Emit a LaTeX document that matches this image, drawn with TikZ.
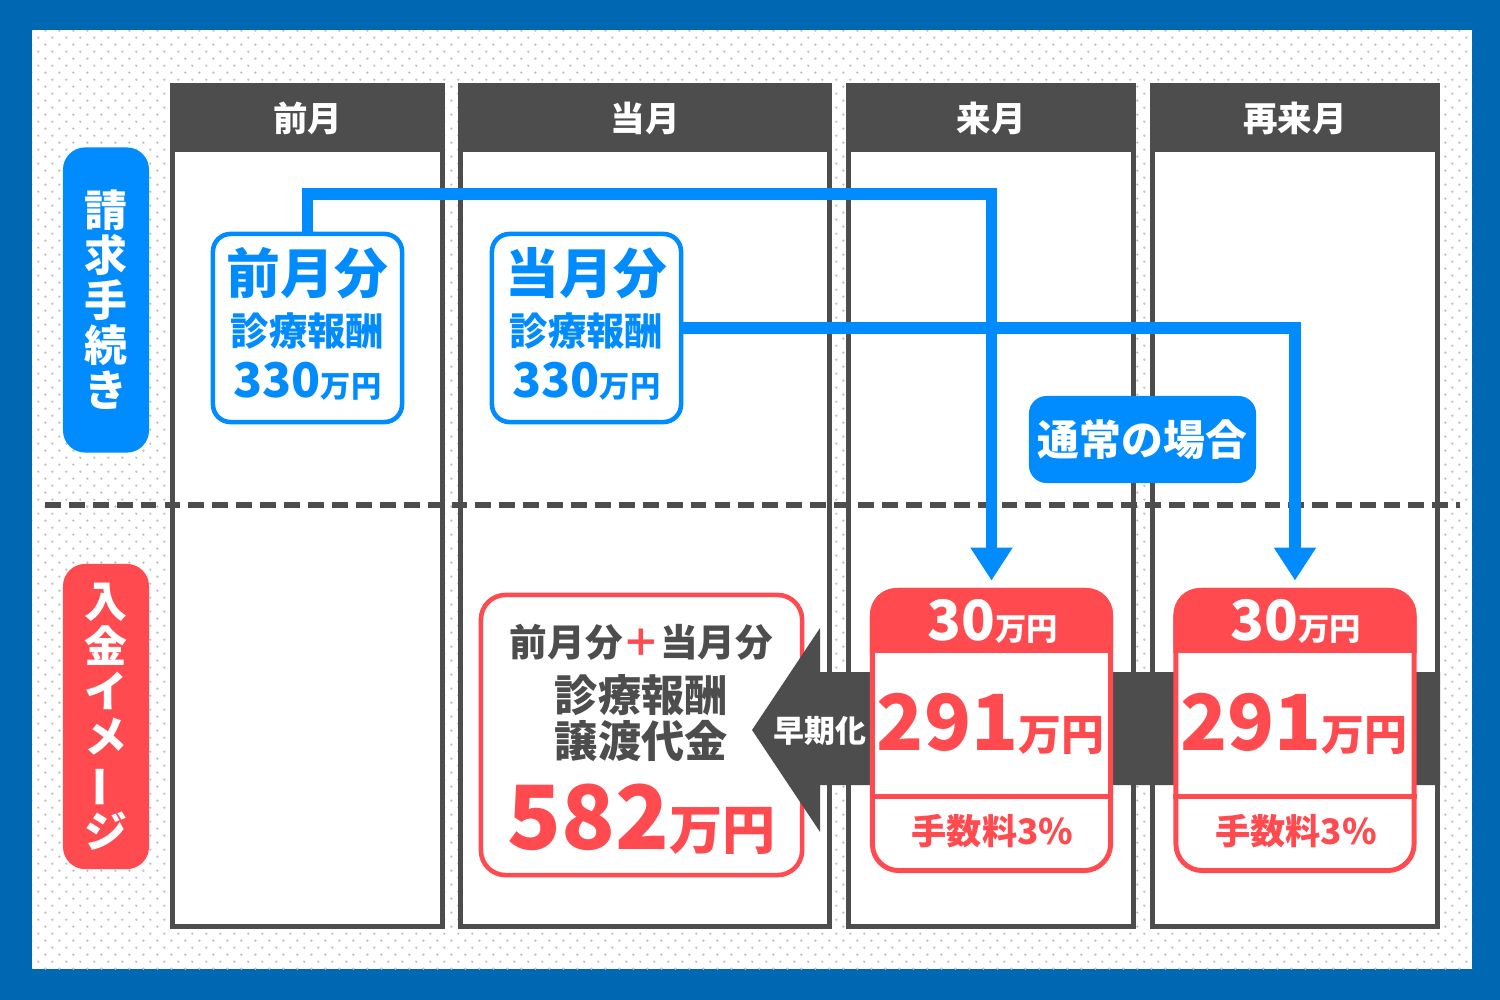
\documentclass[tikz,border=0pt]{standalone}
\usepackage{fontspec}
\setmainfont{Noto Sans CJK JP}
\usepackage{xcolor}
\usepackage{tikz}
\usetikzlibrary{arrows.meta}
\usetikzlibrary{calc, fit, positioning}
\usetikzlibrary{patterns.meta}
\definecolor{frameBlue}{HTML}{0068B3}
\definecolor{billBlue}{HTML}{008CFF}
\definecolor{payRed}{HTML}{FF4B50}
\definecolor{gridGray}{HTML}{4D4D4D}
\definecolor{dotGray}{HTML}{C4C4C4}
\newcommand{\sz}[1]{\fontsize{#1pt}{#1pt}\selectfont}
\tikzdeclarepattern{
    name=bgdots,
    type=uncolored,
    bounding box={(0pt,0pt) and (4.1pt,4.1pt)},
    tile size={(4.1pt,4.1pt)},
    code={
        \fill (1pt,1pt) circle (0.38pt);
        \fill (3.05pt,3.05pt) circle (0.38pt);
    }
}
\tikzset{col-frame/.style={draw=gridGray, line width=1.4pt, fill=white, inner sep=0pt}}
\tikzset{col-head/.style={text=white, inner sep=0pt, font=\bfseries\sz{9.8}}}
\tikzset{side-label/.style={
        rounded corners=6.3pt,
        text=white,
        minimum width=0.86cm,
        minimum height=3.05cm,
        inner sep=0pt,
        align=center,
        font=\bfseries\fontsize{12.2pt}{12.8pt}\selectfont
    }
}
\tikzset{bill-box/.style={draw=billBlue, line width=1.3pt, fill=white, rounded corners=5pt, minimum width=1.89cm, minimum height=1.88cm, inner sep=0pt}}
\tikzset{bill-text/.style={anchor=base, inner sep=0pt, text=billBlue, font=\bfseries}}
\tikzset{bill-line/.style={draw=billBlue, line width=3.4pt}}
\tikzset{>={Triangle[width=11.4pt, length=9.4pt]}}
\tikzset{pay-card/.style={draw=payRed, line width=1.4pt, fill=white, rounded corners=7.5pt, minimum width=2.38cm, minimum height=2.80cm, inner sep=0pt}}
\tikzset{pay-text/.style={anchor=base, inner sep=0pt, text=payRed, font=\bfseries}}
\tikzset{dash-line/.style={draw=gridGray, line width=1.7pt, dash pattern=on 4.5pt off 2.3pt}}
\newcommand{\monthcol}[4]{
    \node[col-frame, fit={(#2,85.5)(#3,926.5)}] (col#1) {};
    \filldraw[gridGray, line width=1.4pt] (#2,85.5) rectangle (#3,150);
    \node[col-head] (head#1) at ($(#2,118)!0.5!(#3,118)$) {#4};
}
\newcommand{\billbox}[3]{
    \node[bill-box] (#1) at (#2,328) {};
    \node[bill-text, font=\bfseries\sz{15.3}] (#1title) at ($(#1.north)+(0,62)$) {#3};
    \node[bill-text, font=\bfseries\sz{10.9}] (#1kind) at ($(#1.north)+(0,114)$) {診療報酬};
    \node[bill-text] (#1sum) at ($(#1.north)+(0,166)$) {\sz{13.6}330\sz{8.6}万円};
}
\newcommand{\paycard}[2]{
    \node[pay-card] (card#1) at (#2,730.5) {};
    \begin{scope}
        \clip ($(card#1.north west)+(-5,-5)$) rectangle ($(card#1.north east)+(5,64.5)$);
        \fill[payRed, rounded corners=7.5pt] (card#1.north west) rectangle (card#1.south east);
    \end{scope}
    \draw[payRed, line width=1.4pt] ($(card#1.north west)+(0,208.5)$) -- ($(card#1.north east)+(0,208.5)$);
    \node[pay-text, text=white] (fee#1head) at ($(card#1.north)+(1,52.5)$) {\sz{15.8}30\sz{8.9}万円};
    \node[pay-text] (fee#1net) at ($(card#1.north)+(-1,162.5)$) {\sz{22}291\sz{12.2}万円};
    \node[pay-text] (fee#1rate) at ($(card#1.north)+(1,256.5)$) {\sz{10}手数料3\%};
}

\begin{document}
\begin{tikzpicture}[x=0.01cm, y=-0.01cm]
    \useasboundingbox (0,0) rectangle (1500,1000);
    \fill[frameBlue] (0,0) rectangle (1500,1000);
    \fill[white] (32,30) rectangle (1472,969);
    \fill[pattern=bgdots, pattern color=dotGray] (32,30) rectangle (1472,969);

    \monthcol{1}{172.5}{442.5}{前月}
    \monthcol{2}{460.5}{829.5}{当月}
    \monthcol{3}{848.5}{1133.5}{来月}
    \monthcol{4}{1152.5}{1437.5}{再来月}

    \coordinate (dashL) at (45,505);
    \coordinate (dashR) at (1460,505);
    \draw[dash-line] (dashL) -- (dashR);

    \node[draw=payRed, line width=1.3pt, fill=white, rounded corners=7pt, minimum width=3.21cm, minimum height=2.80cm, inner sep=0pt] (total) at (641.5,735) {};
    \node[anchor=base, inner sep=0pt, text=gridGray, font=\bfseries\sz{10.7}] (totalhead) at ($(total.north)+(0,64)$) {前月分{\color{payRed}＋}当月分};
    \node[anchor=base, inner sep=0pt, text=gridGray, font=\bfseries\sz{12.3}] (totalkind) at ($(total.north)+(0,119)$) {診療報酬};
    \node[anchor=base, inner sep=0pt, text=gridGray, font=\bfseries\sz{12.3}] (totalsale) at ($(total.north)+(0,165)$) {譲渡代金};
    \node[pay-text] (totalsum) at ($(total.north)+(0,257)$) {\sz{25.2}582\sz{15.1}万円};

    % early payment arrow
    \fill[gridGray] (1440,672) -- (820,672) -- (820,628) -- (752,730) -- (820,832) -- (820,785) -- (1440,785) -- cycle;

    \paycard{1}{991.5}
    \paycard{2}{1295}

    \node[text=white, font=\bfseries\sz{8.8}] (early) at (820,731) {早期化};

    \node[side-label, fill=billBlue] (billtag) at (106,300) {請\\求\\手\\続\\き};
    \node[side-label, fill=payRed] (paytag) at (106,716.5) {入\\金\\イ\\メ\\\rotatebox[origin=c]{90}{ー}\\ジ};

    \billbox{prev}{307.5}{前月分}
    \billbox{this}{586.5}{当月分}

    \coordinate (railTop) at (0,194);
    \draw[bill-line, ->, shorten >=2.1pt] (prev.north) |- (railTop -| card1.north) -- (card1.north);
    \draw[bill-line, ->, shorten >=2.1pt] (this.east) -| (card2.north);

    \node[fill=billBlue, rounded corners=5pt, minimum width=2.27cm, minimum height=0.87cm, inner sep=0pt, text=white, font=\bfseries\sz{11.9}] (usual) at (1142.5,439.5) {通常の場合};
\end{tikzpicture}
\end{document}
